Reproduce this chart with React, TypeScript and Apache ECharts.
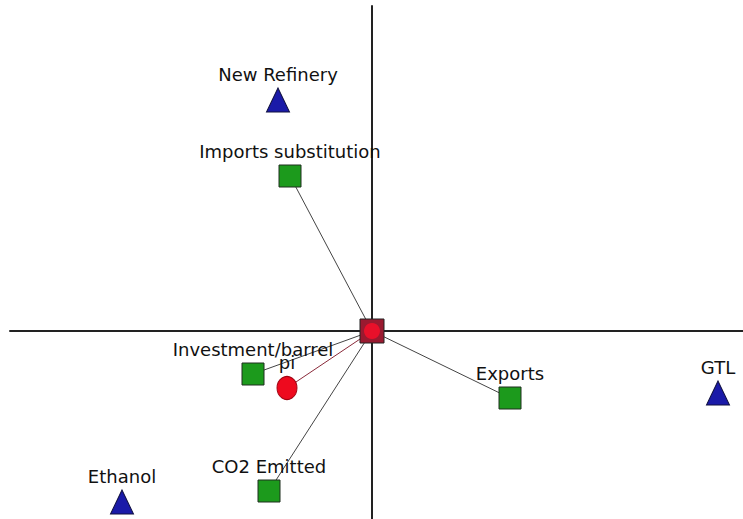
import React, { useEffect, useRef } from "react";
import * as echarts from "echarts";

// Variables (green squares, linked to origin)
const variableNames = ["Imports substitution", "Investment/barrel", "Exports", "CO2 Emitted"];
const variableX = [-0.82, -1.19, 1.38, -1.03];
const variableY = [1.55, -0.43, -0.67, -1.6];

// Alternatives (blue triangles)
const alternativeNames = ["New Refinery", "GTL", "Ethanol"];
const alternativeX = [-0.94, 3.46, -2.5];
const alternativeY = [2.31, -0.62, -1.71];

// Decision axis pi (red circle)
const piNames = ["pi"];
const piX = [-0.85];
const piY = [-0.57];

// Axis ranges
const xRange = [-3.62, 3.71];
const yRange = [-1.88, 3.25];

const FONT = "DejaVu Sans";

export default function App() {
  const ref = useRef<HTMLDivElement>(null);
  useEffect(() => {
    if (!ref.current) return;
    const chart = echarts.init(ref.current, null, { renderer: "svg" });
    const label = {
      show: true,
      position: "top",
      distance: 4,
      formatter: (p: any) => p.name,
      fontFamily: FONT,
      fontSize: 18,
      color: "#111",
    };
    const lineData = [
      ...variableNames.map((n, i) => ({
        coords: [[variableX[i], variableY[i]], [0, 0]],
        lineStyle: { color: "#444" },
      })),
      ...piNames.map((n, i) => ({
        coords: [[piX[i], piY[i]], [0, 0]],
        lineStyle: { color: "#8a2a3a" },
      })),
    ];
    chart.setOption({
      animation: false,
      backgroundColor: "#ffffff",
      grid: { left: 10, right: 0, top: 6, bottom: 0 },
      xAxis: {
        type: "value",
        min: xRange[0],
        max: xRange[1],
        axisLine: { show: true, onZero: true, lineStyle: { color: "#222", width: 2 } },
        axisTick: { show: false },
        axisLabel: { show: false },
        splitLine: { show: false },
      },
      yAxis: {
        type: "value",
        min: yRange[0],
        max: yRange[1],
        axisLine: { show: true, onZero: true, lineStyle: { color: "#222", width: 2 } },
        axisTick: { show: false },
        axisLabel: { show: false },
        splitLine: { show: false },
      },
      series: [
        {
          type: "lines",
          coordinateSystem: "cartesian2d",
          silent: true,
          symbol: "none",
          lineStyle: { width: 1, opacity: 1 },
          data: lineData,
          z: 1,
        },
        {
          type: "scatter",
          symbol: "rect",
          symbolSize: 22,
          itemStyle: { color: "#1c9a1c", borderColor: "#1f2f1f", borderWidth: 1, opacity: 1 },
          label,
          data: variableNames.map((n, i) => ({ name: n, value: [variableX[i], variableY[i]] })),
          z: 3,
        },
        {
          type: "scatter",
          symbol: "triangle",
          symbolSize: [23, 24],
          itemStyle: { color: "#1a1aa8", borderColor: "#101040", borderWidth: 1, opacity: 1 },
          label,
          data: alternativeNames.map((n, i) => ({ name: n, value: [alternativeX[i], alternativeY[i]] })),
          z: 3,
        },
        {
          type: "scatter",
          symbol: "circle",
          symbolSize: [20, 23],
          itemStyle: { color: "#ee0a1e", borderColor: "#a00010", borderWidth: 1, opacity: 1 },
          label,
          data: piNames.map((n, i) => ({ name: n, value: [piX[i], piY[i]] })),
          z: 3,
        },
        {
          type: "scatter",
          symbol: "rect",
          symbolSize: 24,
          itemStyle: { color: "#9a1a30", borderColor: "#222", borderWidth: 1, opacity: 1 },
          data: [[0, 0]],
          z: 4,
        },
        {
          type: "scatter",
          symbol: "circle",
          symbolSize: 16,
          itemStyle: { color: "#e8102a", opacity: 1 },
          data: [[0, 0]],
          z: 5,
        },
      ],
    });
    return () => chart.dispose();
  }, []);
  return (
    <div
      ref={ref}
      style={{ position: "absolute", left: 0, top: 0, width: 743, height: 519 }}
    />
  );
}
